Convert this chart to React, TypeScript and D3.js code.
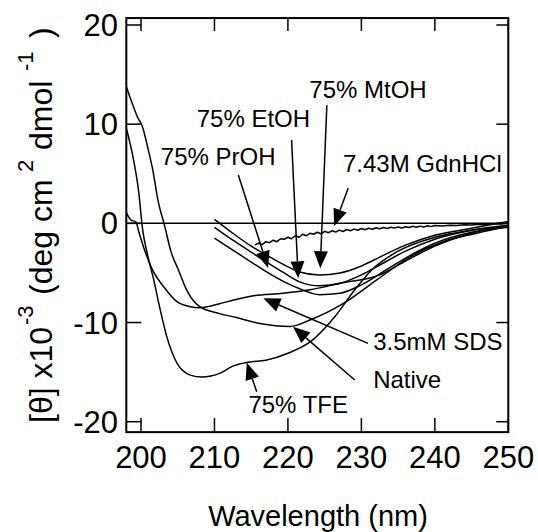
import React from "react";
import * as d3 from "d3";

// ---- data (wavelength in nm, [θ] x10^-3) ----
const tfeWl = [198, 198.8, 199.7, 200.2, 200.9, 201.8, 202.4, 203.5, 204.9, 206.7, 208.3, 209.5, 210.8, 212.5, 214.6, 217, 220, 223.3, 226.4, 229.1, 231.4, 235, 240, 245, 250];
const tfeVal = [9.6, 7.1, 3.1, -0.5, -3.2, -5.9, -8.0, -11.4, -14.1, -15.3, -15.5, -15.4, -15.1, -14.4, -14.0, -13.8, -13.1, -11.8, -9.4, -6.7, -4.7, -2.8, -1.4, -0.7, -0.3];

const nativeWl = [198, 198.8, 199.5, 200.2, 200.9, 201.6, 202.3, 203.2, 204.1, 205.1, 206.2, 208.0, 210.7, 213, 216.2, 220.3, 223.0, 227.5, 232.1, 236.6, 241.1, 245.7, 250];
const nativeVal = [13.8, 12.1, 10.75, 9.75, 7.7, 5.4, 2.35, -0.2, -2.9, -4.7, -6.7, -8.4, -9.1, -9.5, -10.1, -10.4, -9.75, -8.1, -5.7, -3.4, -1.85, -1.0, -0.3];

const sdsWl = [198, 198.6, 199.3, 199.7, 200.4, 201.7, 203.1, 204.9, 206.7, 208.0, 210.7, 212.5, 215.3, 219.3, 223.0, 227.1, 232.5, 236, 240, 245, 250];
const sdsVal = [1.1, 0.35, 0.15, -0.85, -2.5, -4.9, -6.4, -7.9, -8.4, -8.5, -8.1, -7.75, -7.3, -7.05, -6.7, -6.05, -5.2, -3.8, -2.3, -1.0, -0.2];

const alcWl = [210, 212.5, 215, 217.1, 219.5, 221.6, 224.3, 227.1, 230, 232.5, 236, 240, 245, 250];
const mtohVal = [0.4, -1.0, -2.3, -3.2, -4.2, -4.9, -5.2, -5.0, -4.3, -3.4, -2.2, -1.2, -0.5, 0.2];
const etohVal = [-0.4, -1.7, -2.9, -3.9, -5.0, -5.9, -6.3, -6.05, -5.2, -4.2, -2.8, -1.6, -0.7, -0.2];
const prohVal = [-1.5, -2.7, -3.9, -4.9, -5.9, -6.6, -7.2, -7.05, -6.2, -5.1, -3.5, -2.0, -0.9, -0.4];

const gdnWl = [215.5, 216, 216.5, 217, 217.5, 218, 218.5, 219, 219.5, 220, 220.5, 221, 221.5, 222, 222.5, 223, 223.5, 224, 224.5, 225, 225.5, 226, 226.5, 227, 227.5, 228, 228.5, 229, 229.5, 230, 230.5, 231, 231.5, 232, 232.5, 233, 233.5, 234, 234.5, 235, 235.5, 236, 236.5, 237, 237.5, 238, 238.5, 239, 239.5, 240, 241, 242, 243, 244, 245, 246, 247, 248, 249, 250];
const gdnVal = [-2.2, -2.0, -2.15, -1.85, -1.95, -1.7, -1.85, -1.55, -1.6, -1.4, -1.55, -1.25, -1.4, -1.1, -1.25, -1.0, -1.1, -0.9, -1.05, -0.8, -0.95, -0.75, -0.88, -0.68, -0.82, -0.62, -0.75, -0.58, -0.7, -0.52, -0.65, -0.5, -0.6, -0.45, -0.55, -0.42, -0.52, -0.4, -0.48, -0.36, -0.46, -0.34, -0.42, -0.3, -0.4, -0.28, -0.36, -0.25, -0.33, -0.22, -0.27, -0.18, -0.22, -0.14, -0.17, -0.1, -0.12, -0.05, -0.06, 0.0];

const xTicks = [200, 210, 220, 230, 240, 250];
const yTicks = [-20, -10, 0, 10, 20];

// annotation: label, text anchor point (nm, value), line start, arrow tip, anchor
const annLabels = ["75% MtOH", "75% EtOH", "75% PrOH", "7.43M GdnHCl", "3.5mM SDS", "Native", "75% TFE"];
const annText = [[230.9, 12.63], [215.3, 9.75], [210.5, 5.88], [238.3, 5.21], [231.6, -12.77], [231.6, -16.63], [221.4, -19.15]];
const annFrom = [[225.3, 11.9], [220.5, 8.4], [213.25, 4.88], [228.2, 3.53], [230.9, -12.1], [229.1, -15.8], [215.75, -16.98]];
const annTip = [[224.4, -4.53], [221.4, -5.54], [217.3, -4.5], [226.3, -0.27], [216.65, -7.56], [220.7, -10.42], [214.4, -14.05]];
const annAnchor = ["middle", "middle", "middle", "middle", "start", "start", "middle"];

// y-axis title pieces: text, superscript?
const yTitleText = ["[θ] x10", "-3", "(deg cm", "2", "dmol", "-1", ")"];
const yTitleSup = [false, true, false, true, false, true, false];
const yTitleOffset = [0, 98, 128, 251, 273, 352, 385];

const FONT = "'Liberation Sans', Arial, Helvetica, sans-serif";

export default function App() {
  const W = 538, H = 532;
  const x = d3.scaleLinear().domain([200, 250]).range([141, 508.3]);
  const y = d3.scaleLinear().domain([-20, 20]).range([421.7, 25]);
  const left = x(198), right = x(250);
  const top = y(20.7), bottom = y(-21.05);

  const line = d3.line<[number, number]>().x(d => x(d[0])).y(d => y(d[1])).curve(d3.curveMonotoneX);
  const lineRaw = d3.line<[number, number]>().x(d => x(d[0])).y(d => y(d[1]));

  const series: [number[], number[], boolean][] = [
    [tfeWl, tfeVal, true],
    [nativeWl, nativeVal, true],
    [sdsWl, sdsVal, true],
    [alcWl, mtohVal, true],
    [alcWl, etohVal, true],
    [alcWl, prohVal, true],
    [gdnWl, gdnVal, false],
  ];

  const arrows = annLabels.map((lab, i) => {
    const x0 = x(annFrom[i][0]), y0 = y(annFrom[i][1]);
    const x1 = x(annTip[i][0]), y1 = y(annTip[i][1]);
    const dx = x1 - x0, dy = y1 - y0;
    const len = Math.hypot(dx, dy);
    const ux = dx / len, uy = dy / len;
    const hl = 17, hw = 7;
    const bx = x1 - ux * hl, by = y1 - uy * hl;
    const pts = [[x1, y1], [bx - uy * hw, by + ux * hw], [bx + uy * hw, by - ux * hw]];
    return { x0, y0, bx, by, pts, tx: x(annText[i][0]), ty: y(annText[i][1]), lab, anchor: annAnchor[i] };
  });

  return (
    <svg width={W} height={H} style={{ position: "absolute", left: 0, top: 0, background: "#fff" }} fontFamily={FONT}>
      <rect x={0} y={0} width={W} height={H} fill="#fff" />
      <defs>
        <clipPath id="plot">
          <rect x={left} y={top} width={right - left} height={bottom - top} />
        </clipPath>
      </defs>
      {/* zero line */}
      <line x1={left} x2={right} y1={y(0)} y2={y(0)} stroke="#000" strokeWidth={1.5} />
      {/* curves */}
      <g clipPath="url(#plot)" fill="none" stroke="#000" strokeWidth={1.5}>
        {series.map(([wl, v, smooth], i) => {
          const pts = wl.map((w, j) => [w, v[j]] as [number, number]);
          return <path key={i} d={(smooth ? line : lineRaw)(pts) || ""} strokeLinejoin="round" />;
        })}
      </g>
      {/* frame */}
      <rect x={left} y={top} width={right - left} height={bottom - top} fill="none" stroke="#000" strokeWidth={2} />
      {/* ticks */}
      {xTicks.map(t => (
        <g key={"xt" + t}>
          <line x1={x(t)} x2={x(t)} y1={bottom} y2={bottom - 14} stroke="#000" strokeWidth={1.5} />
          <line x1={x(t)} x2={x(t)} y1={top} y2={top + 13} stroke="#000" strokeWidth={1.5} />
          <text x={x(t)} y={468} fontSize={31} textAnchor="middle">{t}</text>
        </g>
      ))}
      {yTicks.map(t => (
        <g key={"yt" + t}>
          <line x1={left} x2={left + 15} y1={y(t)} y2={y(t)} stroke="#000" strokeWidth={1.5} />
          <line x1={right} x2={right - 12} y1={y(t)} y2={y(t)} stroke="#000" strokeWidth={1.5} />
          <text x={118} y={y(t) + 11} fontSize={31} textAnchor="end">{t}</text>
        </g>
      ))}
      {/* annotations */}
      {arrows.map((a, i) => (
        <g key={"a" + i}>
          <line x1={a.x0} y1={a.y0} x2={a.bx} y2={a.by} stroke="#000" strokeWidth={1.5} />
          <polygon points={a.pts.map(p => p.join(",")).join(" ")} fill="#000" />
          <text x={a.tx} y={a.ty} fontSize={24} textAnchor={a.anchor}>{a.lab}</text>
        </g>
      ))}
      {/* axis titles */}
      <text x={318} y={526} fontSize={29} textAnchor="middle">Wavelength (nm)</text>
      <g transform="translate(52,423) rotate(-90)">
        {yTitleText.map((s, i) => (
          <text key={"yl" + i} x={yTitleOffset[i]} y={yTitleSup[i] ? -19 : 0} fontSize={yTitleSup[i] ? 22 : 32}>{s}</text>
        ))}
      </g>
    </svg>
  );
}
